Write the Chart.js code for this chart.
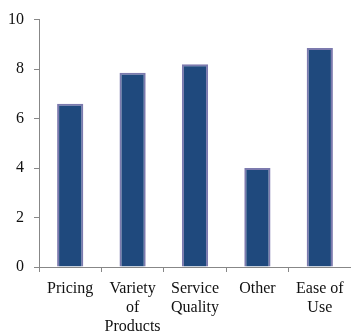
<!DOCTYPE html>
<html>
<head>
<meta charset="utf-8">
<script src="https://cdn.jsdelivr.net/npm/chart.js@4/dist/chart.umd.min.js"></script>
<style>
  html, body { margin: 0; padding: 0; background: #ffffff; }
  #wrap { width: 351px; height: 331px; position: relative; }
</style>
</head>
<body>
<div id="wrap"><canvas id="chart"></canvas></div>
<script>
// Survey factors and their average scores
const categories = [
  ["Pricing"],
  ["Variety", "of", "Products"],
  ["Service", "Quality"],
  ["Other"],
  ["Ease of", "Use"]
];
const scores = [6.6, 7.85, 8.2, 4.0, 8.85];
const yTicks = [0, 2, 4, 6, 8, 10];

const axisGray = "#878787";
const textColor = "#111111";

new Chart(document.getElementById("chart"), {
  type: "bar",
  data: {
    labels: categories,
    datasets: [{
      data: scores,
      backgroundColor: "#1f497d",
      borderColor: "#7c7aae",
      borderWidth: 2,
      categoryPercentage: 1.0,
      barPercentage: 0.42
    }]
  },
  options: {
    responsive: true,
    maintainAspectRatio: false,
    animation: false,
    layout: { padding: { top: 10, left: 8, right: 0, bottom: 0 } },
    plugins: {
      legend: { display: false },
      tooltip: { enabled: false }
    },
    scales: {
      x: {
        grid: {
          display: true,
          drawOnChartArea: false,
          drawTicks: true,
          tickLength: 5,
          color: axisGray,
          offset: true
        },
        border: { display: true, color: axisGray, width: 1 },
        ticks: {
          color: textColor,
          padding: 7,
          maxRotation: 0,
          autoSkip: false,
          font: { family: "'Liberation Serif', 'Times New Roman', serif", size: 16, lineHeight: 1.2 }
        },
        afterFit(scale) { scale.height = 64; }
      },
      y: {
        min: 0,
        max: 10,
        afterBuildTicks(scale) { scale.ticks = yTicks.map(v => ({ value: v })); },
        grid: {
          display: true,
          drawOnChartArea: false,
          drawTicks: true,
          tickLength: 5,
          color: axisGray
        },
        border: { display: true, color: axisGray, width: 1 },
        ticks: {
          color: textColor,
          padding: 10,
          font: { family: "'Liberation Serif', 'Times New Roman', serif", size: 16 }
        },
        afterFit(scale) { scale.width = 31; }
      }
    }
  }
});
</script>
</body>
</html>
